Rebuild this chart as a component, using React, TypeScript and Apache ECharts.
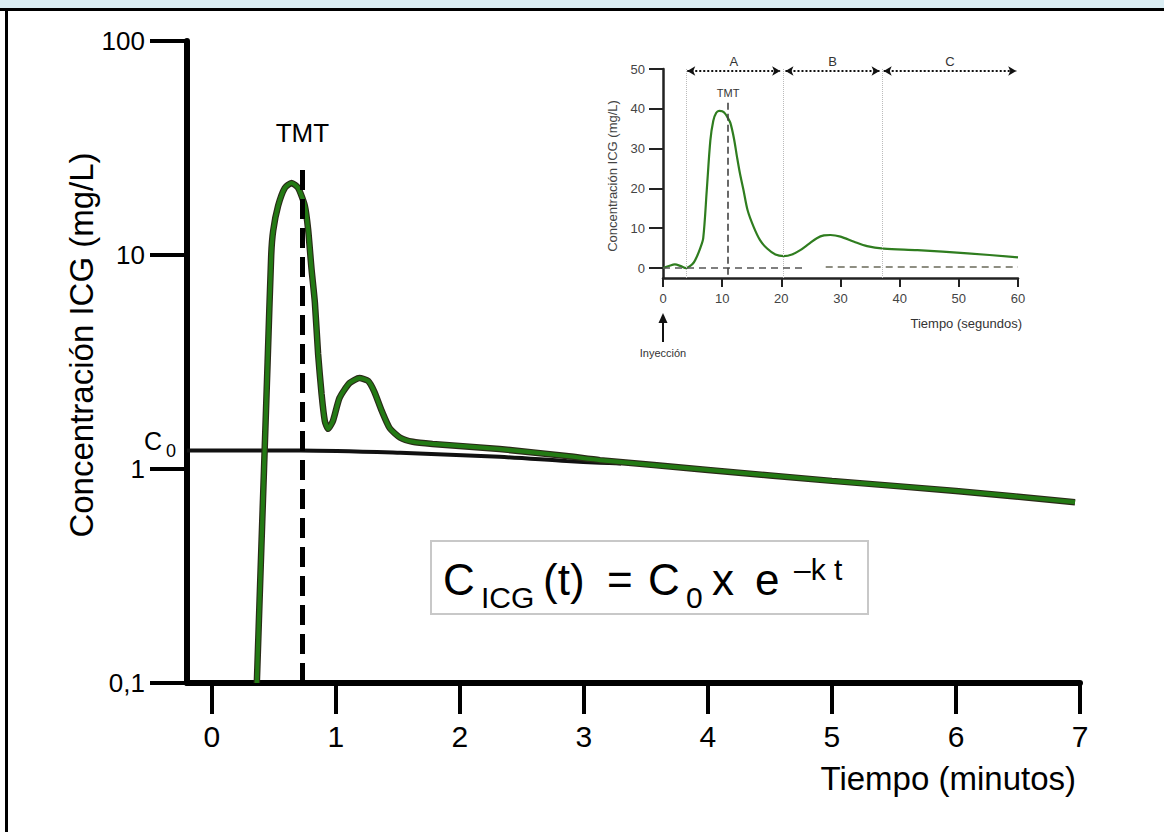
import React, { useEffect, useRef } from 'react';
import * as echarts from 'echarts';

// ---- Main chart data (minutes, mg/L, log scale) ----
const mainTimes = [0.363, 0.392, 0.421, 0.45, 0.479, 0.495, 0.535, 0.589, 0.643, 0.696, 0.75, 0.777, 0.804, 0.831, 0.857, 0.885, 0.911, 0.938, 0.977, 1.03, 1.11, 1.19, 1.26, 1.31, 1.37, 1.435, 1.52, 1.62, 1.78, 2.32, 2.86, 3.13, 4.0, 5.0, 6.0, 6.96];
const mainConc = [0.1, 0.32, 1.0, 3.16, 10, 13, 17, 20.6, 21.7, 20.6, 17, 13.1, 8.6, 6.0, 3.45, 2.24, 1.68, 1.54, 1.68, 2.15, 2.52, 2.66, 2.58, 2.3, 1.87, 1.55, 1.40, 1.34, 1.31, 1.24, 1.15, 1.10, 0.99, 0.88, 0.79, 0.70];
const c0Times = [-0.2, 0.71, 1.52, 2.32, 2.86, 3.13, 3.3];
const c0Conc = [1.22, 1.22, 1.19, 1.14, 1.09, 1.07, 1.06];
const mainXTicks = [0, 1, 2, 3, 4, 5, 6, 7];
const mainYLabels = ['0,1', '1', '10', '100'];
const tmtMain = 0.73;
const tmtMainTop = 27;

// ---- Inset data (seconds, mg/L, linear) ----
const insetTimes = [0, 1, 2, 3, 3.9, 4.5, 5.2, 5.7, 6.3, 6.8, 7.4, 8.0, 8.5, 9.0, 9.5, 10.0, 10.5, 11.0, 11.4, 12.0, 12.5, 13.0, 13.6, 14.3, 15.3, 16.4, 17.6, 19.0, 20.4, 21.8, 23.2, 24.6, 26.0, 27.2, 28.3, 30.0, 32.3, 34.5, 37.3, 43.0, 51.5, 60.0];
const insetConc = [0, 0.5, 0.9, 0.5, 0, 0.4, 1.4, 2.8, 5.0, 7.5, 19.6, 32, 37, 39, 39.5, 39.4, 38.8, 37.6, 36.4, 32.5, 28, 23.8, 19.6, 14.5, 10.4, 7.0, 4.9, 3.4, 3.0, 3.4, 4.5, 6.0, 7.5, 8.2, 8.3, 7.9, 6.6, 5.5, 4.9, 4.5, 3.7, 2.7];
const insetYTicks = [0, 10, 20, 30, 40, 50];
const phaseNames = ['A', 'B', 'C'];
const phaseStart = [4.1, 20.7, 37.3];
const phaseEnd = [19.8, 36.6, 59.7];
const phaseBounds = [3.9, 20.3, 37.1];
const tmtInset = 11;
const tmtInsetTop = 41.5;
const baselineA = [0, 23.7, 0];
const baselineB = [27.5, 60, 0.3];

const F = '"Liberation Sans", Arial, Helvetica, sans-serif';

export default function App() {
  const ref = useRef<HTMLDivElement>(null);
  useEffect(() => {
    const chart = echarts.init(ref.current!, null, { renderer: 'svg' });
    const mainData = mainTimes.map((t, i) => [t, mainConc[i]]);
    const c0Data = c0Times.map((t, i) => [t, c0Conc[i]]);
    const insetData = insetTimes.map((t, i) => [t, insetConc[i]]);

    chart.setOption({
      animation: false,
      backgroundColor: '#ffffff',
      grid: [
        { left: 187, right: 84, top: 41, bottom: 149 },
        { left: 663, right: 146, top: 69, bottom: 554 },
      ],
      xAxis: [
        {
          gridIndex: 0, type: 'value', min: -0.2, max: 7,
          axisLine: { show: true, onZero: false, lineStyle: { color: '#000', width: 6 } },
          axisTick: { show: true, customValues: mainXTicks, length: 31, lineStyle: { color: '#000', width: 4 } },
          axisLabel: { customValues: mainXTicks, fontSize: 30, color: '#000', margin: 38, fontFamily: F },
          splitLine: { show: false },
        },
        {
          gridIndex: 1, type: 'value', min: 0, max: 60, interval: 10,
          axisLine: { show: true, onZero: false, lineStyle: { color: '#222', width: 2.5 } },
          axisTick: { show: true, length: 9, lineStyle: { color: '#222', width: 2 } },
          axisLabel: { fontSize: 13, color: '#444', margin: 14, fontFamily: F },
          splitLine: { show: false },
        },
      ],
      yAxis: [
        {
          gridIndex: 0, type: 'log', logBase: 10, min: 0.1, max: 100,
          axisLine: { show: true, onZero: false, lineStyle: { color: '#000', width: 6 } },
          axisTick: { show: true, length: 37, lineStyle: { color: '#000', width: 4 } },
          axisLabel: {
            fontSize: 26, color: '#000', margin: 42, fontFamily: F,
            formatter: (v: number) => mainYLabels[Math.round(Math.log10(v)) + 1] ?? '',
          },
          splitLine: { show: false },
          minorTick: { show: false },
        },
        {
          gridIndex: 1, type: 'value', min: -2.5, max: 50,
          axisLine: { show: true, onZero: false, lineStyle: { color: '#222', width: 2.5 } },
          axisTick: { show: true, customValues: insetYTicks, length: 14, lineStyle: { color: '#222', width: 2 } },
          axisLabel: { customValues: insetYTicks, fontSize: 13, color: '#444', margin: 18, fontFamily: F },
          splitLine: { show: false },
        },
      ],
      series: [
        {
          type: 'line', xAxisIndex: 0, yAxisIndex: 0, data: c0Data, showSymbol: false, smooth: 0.3,
          lineStyle: { color: '#111', width: 4 }, z: 2,
        },
        {
          type: 'line', xAxisIndex: 0, yAxisIndex: 0, data: mainData, showSymbol: false, smooth: 0.2,
          lineStyle: { color: '#2a2a18', width: 6.5 }, z: 3,
        },
        {
          type: 'line', xAxisIndex: 0, yAxisIndex: 0, data: mainData, showSymbol: false, smooth: 0.2,
          lineStyle: { color: '#237a14', width: 4.2 }, z: 4,
          markLine: {
            silent: true, symbol: ['none', 'none'], z: 6,
            lineStyle: { color: '#000', width: 5, type: [20, 9] },
            label: { show: true, position: 'end', formatter: 'TMT', fontSize: 26, color: '#000', fontFamily: F, distance: 17 },
            data: [[{ coord: [tmtMain, 0.1] }, { coord: [tmtMain, tmtMainTop] }]],
          },
        },
        {
          type: 'line', xAxisIndex: 1, yAxisIndex: 1, data: insetData, showSymbol: false, smooth: 0.3,
          lineStyle: { color: '#2f7d1f', width: 2.2 }, z: 4,
          markLine: {
            silent: true, symbol: ['none', 'none'],
            data: [
              ...phaseBounds.map((b) => [
                { coord: [b, -2.5], lineStyle: { color: '#bbb', width: 1, type: 'dotted' } },
                { coord: [b, 50] },
              ]),
              [
                { coord: [baselineA[0], baselineA[2]], lineStyle: { color: '#555', width: 1.6, type: [7, 5] } },
                { coord: [baselineA[1], baselineA[2]] },
              ],
              [
                { coord: [baselineB[0], baselineB[2]], lineStyle: { color: '#6a6a5a', width: 1.6, type: [7, 5] } },
                { coord: [baselineB[1], baselineB[2]] },
              ],
              [
                {
                  coord: [tmtInset, tmtInsetTop], lineStyle: { color: '#444', width: 1.6, type: [7, 4] },
                  label: { show: true, position: 'start', formatter: 'TMT', fontSize: 11, color: '#333', fontFamily: F, distance: 4 },
                },
                { coord: [tmtInset, -2.5] },
              ],
              ...phaseNames.map((n, i) => [
                {
                  coord: [phaseStart[i], 49.5], symbol: 'arrow',
                  lineStyle: { color: '#111', width: 2, type: 'dotted' },
                  label: { show: true, position: 'middle', formatter: n, fontSize: 13, color: '#333', fontFamily: F, distance: 3 },
                },
                { coord: [phaseEnd[i], 49.5], symbol: 'arrow' },
              ]),
            ],
            symbolSize: [7, 8],
            label: { show: false },
          },
        },
      ],
    });

    const top = chart.convertToPixel({ gridIndex: 1 }, [0, -11.3]) as number[];
    const bot = chart.convertToPixel({ gridIndex: 1 }, [0, -18.6]) as number[];
    const ax = top[0];

    chart.setOption({
      graphic: [
        { type: 'rect', shape: { x: 0, y: 0, width: 1164, height: 8 }, style: { fill: '#daedf3' }, z: 100 },
        { type: 'rect', shape: { x: 0, y: 8, width: 1164, height: 3 }, style: { fill: '#000' }, z: 100 },
        { type: 'rect', shape: { x: 5, y: 8, width: 3, height: 824 }, style: { fill: '#000' }, z: 100 },
        {
          type: 'text', x: 81, y: 345, rotation: Math.PI / 2,
          style: { text: 'Concentración ICG (mg/L)', fontSize: 33, fontFamily: F, fill: '#000', align: 'center', verticalAlign: 'middle' },
        },
        {
          type: 'text', x: 1076, y: 778,
          style: { text: 'Tiempo (minutos)', fontSize: 33, fontFamily: F, fill: '#000', align: 'right', verticalAlign: 'middle' },
        },
        { type: 'text', x: 144, y: 441, style: { text: 'C', fontSize: 25, fontFamily: F, fill: '#000', align: 'left', verticalAlign: 'middle' } },
        { type: 'text', x: 166, y: 451, style: { text: '0', fontSize: 18, fontFamily: F, fill: '#000', align: 'left', verticalAlign: 'middle' } },
        // Equation box
        { type: 'rect', shape: { x: 431, y: 541, width: 437, height: 73 }, style: { fill: '#fff', stroke: '#c8c8c8', lineWidth: 2 }, z: 10 },
        { type: 'text', x: 443, y: 579, z: 11, style: { text: 'C', fontSize: 44, fontFamily: F, fill: '#000', verticalAlign: 'middle' } },
        { type: 'text', x: 481, y: 597, z: 11, style: { text: 'ICG', fontSize: 30, fontFamily: F, fill: '#000', verticalAlign: 'middle' } },
        { type: 'text', x: 543, y: 579, z: 11, style: { text: '(t)', fontSize: 44, fontFamily: F, fill: '#000', verticalAlign: 'middle' } },
        { type: 'text', x: 607, y: 579, z: 11, style: { text: '=', fontSize: 44, fontFamily: F, fill: '#000', verticalAlign: 'middle' } },
        { type: 'text', x: 648, y: 579, z: 11, style: { text: 'C', fontSize: 44, fontFamily: F, fill: '#000', verticalAlign: 'middle' } },
        { type: 'text', x: 686, y: 597, z: 11, style: { text: '0', fontSize: 30, fontFamily: F, fill: '#000', verticalAlign: 'middle' } },
        { type: 'text', x: 712, y: 579, z: 11, style: { text: 'x', fontSize: 44, fontFamily: F, fill: '#000', verticalAlign: 'middle' } },
        { type: 'text', x: 755, y: 579, z: 11, style: { text: 'e', fontSize: 44, fontFamily: F, fill: '#000', verticalAlign: 'middle' } },
        { type: 'text', x: 794, y: 569, z: 11, style: { text: '\u2013k t', fontSize: 30, fontFamily: F, fill: '#000', verticalAlign: 'middle' } },
        // Inset axis names
        {
          type: 'text', x: 612, y: 176, rotation: Math.PI / 2,
          style: { text: 'Concentración ICG (mg/L)', fontSize: 13, fontFamily: F, fill: '#444', align: 'center', verticalAlign: 'middle' },
        },
        {
          type: 'text', x: 1022, y: 323,
          style: { text: 'Tiempo (segundos)', fontSize: 13, fontFamily: F, fill: '#333', align: 'right', verticalAlign: 'middle' },
        },
        // Injection arrow
        { type: 'line', shape: { x1: ax, y1: top[1] + 6, x2: ax, y2: bot[1] }, style: { stroke: '#111', lineWidth: 2 } },
        { type: 'polygon', shape: { points: [[ax, top[1]], [ax - 4.5, top[1] + 10], [ax + 4.5, top[1] + 10]] }, style: { fill: '#111' } },
        {
          type: 'text', x: ax, y: bot[1] + 11,
          style: { text: 'Inyección', fontSize: 11, fontFamily: F, fill: '#333', align: 'center', verticalAlign: 'middle' },
        },
      ],
    });

    return () => chart.dispose();
  }, []);

  return <div ref={ref} style={{ position: 'absolute', left: 0, top: 0, width: 1164, height: 832 }} />;
}
